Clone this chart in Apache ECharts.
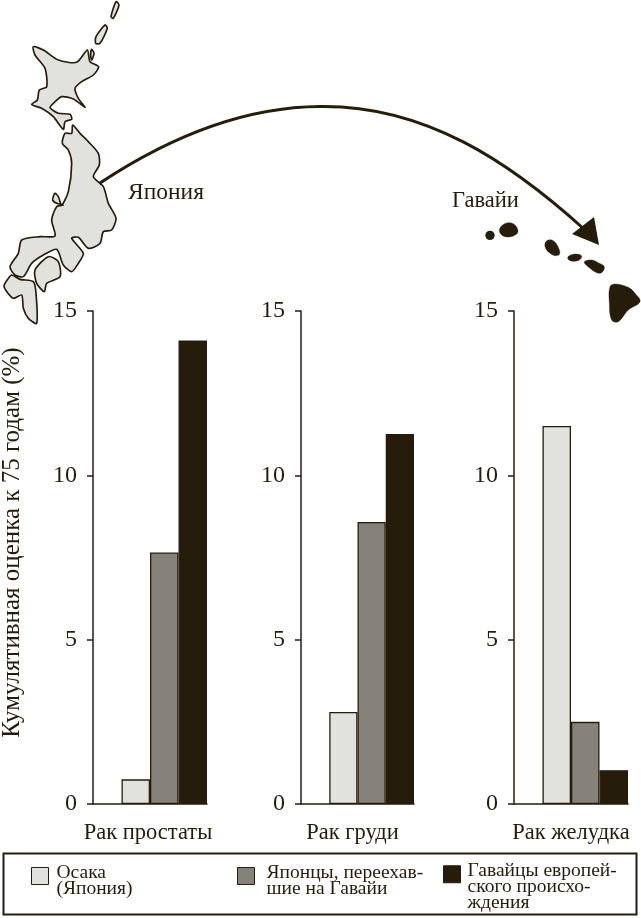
<!DOCTYPE html>
<html><head><meta charset="utf-8">
<style>html,body{margin:0;padding:0;background:#fff}#c{width:641px;height:918px}</style>
<script src="https://cdn.jsdelivr.net/npm/echarts@6/dist/echarts.min.js"></script>
</head><body><div id="c"></div>
<script>
const cancerTypes = ['Рак простаты', 'Рак груди', 'Рак желудка'];
const groupNames = ['Осака (Япония)', 'Японцы, переехавшие на Гавайи', 'Гавайцы европейского происхождения'];
const groupLines = [['Осака', '(Япония)'], ['Японцы, переехав-', 'шие на Гавайи'], ['Гавайцы европей-', 'ского происхо-', 'ждения']];
const osaka = [0.75, 2.8, 11.5];
const migrants = [7.65, 8.58, 2.5];
const hawaiians = [14.1, 11.26, 1.03];
const yTicks = [0, 5, 10, 15];
const yTitle = 'Кумулятивная оценка к 75 годам (%)';

const FONT = '"Liberation Serif", serif';
const INK = '#261c0c', LIGHT = '#e1e1dd', GREY = '#85827b';
const groupColors = [LIGHT, GREY, INK];
const grids = [{left: 93, width: 114, shift: 4}, {left: 301, width: 113, shift: 10}, {left: 514, width: 114, shift: 0}];
const groupValues = [osaka, migrants, hawaiians];

const series = [];
grids.forEach((g, i) => {
  groupValues.forEach((vals, k) => {
    const data = [null, null, null, null];
    data[k + 1] = vals[i];
    series.push({
      type: 'bar', name: groupNames[k], xAxisIndex: i, yAxisIndex: i, stack: 's' + i,
      barCategoryGap: 0, data,
      itemStyle: {color: groupColors[k], borderColor: INK, borderWidth: 1.3},
      silent: true
    });
  });
});

// Short leading blank lines push the block down so its first line sits near the swatch.
const SW_CENTER = 870.5, LH = 16;
const legendPos = [{left: 31, gap: 3, blank: 9}, {left: 237, gap: 7, blank: 9}, {left: 443, gap: 2, blank: 12.5}];
const legends = legendPos.map((p, k) => {
  const lines = groupLines[k];
  const total = (lines.length - 1) * p.blank + lines.length * LH;
  return {
    left: p.left, top: SW_CENTER - total / 2, orient: 'horizontal', padding: 0,
    itemWidth: 17, itemHeight: 17, itemGap: 0, icon: 'rect',
    data: [groupNames[k]], selectedMode: false,
    formatter: () => '\n'.repeat(lines.length - 1) + lines.map(l => '{t|' + l + '}').join('\n'),
    itemStyle: {borderColor: INK, borderWidth: 1},
    textStyle: {fontFamily: FONT, fontSize: 19.5, lineHeight: p.blank, color: INK,
      rich: {t: {fontFamily: FONT, fontSize: 19.5, lineHeight: LH, color: INK, padding: [0, 0, 0, p.gap]}}}
  };
});

// illustration outlines, traced in 3x crop space
const japan = [
  [[100,140],[130,150],[175,180],[230,187],[262,150],[270,185],[296,200],[280,225],[245,245],[225,265],[235,295],[255,322],[220,297],[185,290],[160,310],[150,323],[175,340],[210,343],[215,358],[195,365],[190,388],[160,350],[125,325],[95,313],[112,300],[118,270],[140,260],[135,205],[105,165]],
  [[218,375],[240,400],[265,425],[295,460],[298,495],[280,530],[310,560],[325,610],[348,655],[335,690],[310,695],[300,730],[265,745],[235,712],[215,715],[250,760],[235,790],[215,815],[190,795],[170,748],[130,765],[95,790],[70,830],[45,825],[30,800],[55,760],[65,720],[120,710],[165,708],[155,660],[170,620],[190,615],[170,610],[158,600],[165,580],[175,590],[185,615],[205,575],[215,490],[205,450],[187,430],[195,400],[215,400]],
  [[145,770],[175,785],[180,830],[140,850],[133,875],[110,850],[105,810]],
  [[35,825],[60,838],[100,845],[108,880],[110,970],[85,955],[70,925],[65,885],[40,895],[12,860],[25,835]],
  [[348,5],[357,15],[340,55],[333,50]],
  [[315,75],[322,85],[300,130],[287,130],[288,110]],
  [[275,148],[282,160],[275,180],[272,165]]
];
const hawaii = [
  [[538,420],[548,405],[565,398],[584,404],[594,425],[580,438],[560,441],[545,435]],
  [[675,460],[685,450],[700,452],[714,470],[719,492],[705,497],[690,490],[678,477]],
  [[743,503],[752,495],[770,492],[785,498],[778,510],[760,514],[748,511]],
  [[793,516],[815,510],[835,518],[853,530],[845,548],[830,548],[810,535]],
  [[870,590],[885,582],[925,592],[945,610],[960,635],[925,660],[895,695],[875,690],[868,640]]
];
const poly = (pts, fill, stroke, lw, smooth) => ({type: 'polygon', silent: true,
  shape: {points: pts, smooth}, style: {fill, stroke, lineWidth: lw}});

const graphic = [
  {type: 'group', x: 0, y: 0, scaleX: 1/3, scaleY: 1/3, silent: true,
   children: japan.map(p => poly(p, LIGHT, INK, 5, 0.25))},
  {type: 'group', x: 320, y: 90, scaleX: 1/3, scaleY: 1/3, silent: true,
   children: hawaii.map(p => poly(p, INK, INK, 1, 0.4)).concat([
     {type: 'circle', silent: true, shape: {cx: 510, cy: 436, r: 14}, style: {fill: INK}}])},
  {type: 'bezierCurve', silent: true, shape: {x1: 100, y1: 183, cpx1: 165, cpy1: 140, cpx2: 240, cpy2: 107, x2: 320, y2: 106.5},
   style: {stroke: INK, lineWidth: 3, fill: null}},
  {type: 'bezierCurve', silent: true, shape: {x1: 320, y1: 106.5, cpx1: 425, cpy1: 105, cpx2: 510, cpy2: 162, x2: 585, y2: 230},
   style: {stroke: INK, lineWidth: 3, fill: null}},
  {type: 'polygon', silent: true, shape: {points: [[572,234],[594,217],[599,245]]}, style: {fill: INK}},
  {type: 'text', silent: true, x: 128, y: 181, style: {text: 'Япония', font: '23.5px ' + FONT, fill: INK}},
  {type: 'text', silent: true, x: 452, y: 190, style: {text: 'Гавайи', font: '22.5px ' + FONT, fill: INK}},
  {type: 'text', silent: true, x: 12, y: 542.5, rotation: Math.PI / 2,
   style: {text: yTitle, font: '25px ' + FONT, fill: INK, align: 'center', verticalAlign: 'middle'}},
  {type: 'rect', silent: true, z: -1, shape: {x: 3.5, y: 853.5, width: 633, height: 61}, style: {fill: '#fff', stroke: INK, lineWidth: 2}}
];

const option = {
  animation: false, backgroundColor: '#fff',
  grid: grids.map(g => ({left: g.left, width: g.width, top: 311, height: 493, containLabel: false, outerBoundsMode: 'none'})),
  xAxis: grids.map((g, i) => ({
    type: 'category', gridIndex: i, data: ['', ...groupNames],
    name: cancerTypes[i], nameLocation: 'middle', nameGap: 18,
    nameTextStyle: {fontFamily: FONT, fontSize: 22.5, color: INK, padding: [0, g.shift, 0, 0]},
    axisTick: {show: false}, axisLabel: {show: false},
    axisLine: {show: true, lineStyle: {color: INK, width: 1.5}}
  })),
  yAxis: grids.map((g, i) => ({
    type: 'value', gridIndex: i, min: 0, max: 15, interval: 5,
    splitLine: {show: false},
    axisLine: {show: true, lineStyle: {color: INK, width: 1.5}},
    axisTick: {show: true, length: 6, lineStyle: {color: INK, width: 1.5}},
    axisLabel: {fontFamily: FONT, fontSize: 24, color: INK, margin: 16,
      formatter: v => yTicks.includes(v) ? String(v) : ''}
  })),
  legend: legends,
  series,
  graphic
};
const chart = echarts.init(document.getElementById('c'), null, {renderer: 'canvas'});
chart.setOption(option);
</script></body></html>
